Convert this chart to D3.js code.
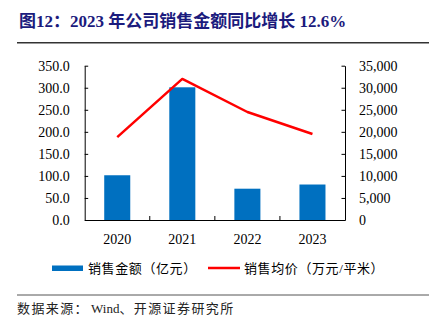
<!DOCTYPE html>
<html><head><meta charset="utf-8">
<script src="https://cdn.jsdelivr.net/npm/d3@7"></script>
<style>
html,body{margin:0;padding:0;background:#fff;}
svg{display:block;}
</style></head>
<body>
<svg id="chart" width="430" height="332"></svg>
<script>
const years = ["2020", "2021", "2022", "2023"];
const salesAmount = [101.5, 301, 71, 80.5];        // 销售金额（亿元）
const avgPrice = [18800, 32000, 24500, 19500];     // 销售均价（万元/平米）
const leftTicks = [0, 50, 100, 150, 200, 250, 300, 350];
const rightTicks = [0, 5000, 10000, 15000, 20000, 25000, 30000, 35000];
const titleText = "图12：2023 年公司销售金额同比增长 12.6%";
const legendBar = "销售金额（亿元）";
const legendLine = "销售均价（万元/平米）";
const sourceParts = ["数据来源：", "Wind", "、开源证券研究所"];

const svg = d3.select("#chart");
const serif = "'Liberation Serif','Times New Roman','Noto Sans CJK SC',serif";
const cjk = "'Liberation Serif','Noto Sans CJK SC',sans-serif";

const L = 84.7, R = 345, T = 65.7, B = 220;
const x = d3.scaleBand().domain(years).range([L, R]).padding(0);
const yL = d3.scaleLinear().domain([0, 350]).range([B, T]);
const yR = d3.scaleLinear().domain([0, 35000]).range([B, T]);

// Title
svg.append("text").attr("x", 19).attr("y", 27)
  .attr("font-family", cjk).attr("font-weight", "bold").attr("font-size", 17)
  .attr("fill", "#1b1b7d").text(titleText);
svg.append("line").attr("x1", 17).attr("x2", 429).attr("y1", 42.7).attr("y2", 42.7)
  .attr("stroke", "#333").attr("stroke-width", 1.4);

// Bars
const bw = x.bandwidth() * 0.4;
svg.append("g").selectAll("rect").data(years).join("rect")
  .attr("x", d => x(d) + x.bandwidth() / 2 - bw / 2)
  .attr("width", bw)
  .attr("y", (d, i) => yL(salesAmount[i]))
  .attr("height", (d, i) => B - yL(salesAmount[i]))
  .attr("fill", "#0070c0");

// Line
const line = d3.line()
  .x((d, i) => x(years[i]) + x.bandwidth() / 2)
  .y(d => yR(d));
svg.append("path").datum(avgPrice).attr("d", line)
  .attr("fill", "none").attr("stroke", "#ff0000").attr("stroke-width", 2.5)
  .attr("stroke-linejoin", "round");

// Left axis
const leftAxis = d3.axisLeft(yL).tickValues(leftTicks).tickFormat(d3.format(".1f"))
  .tickSizeInner(-3.5).tickSizeOuter(0).tickPadding(15);
const gL = svg.append("g").attr("transform", `translate(${L},0)`).call(leftAxis);
gL.selectAll("text").attr("font-family", serif).attr("font-size", 14).attr("fill", "#000");

// Right axis
const rightAxis = d3.axisRight(yR).tickValues(rightTicks).tickFormat(d3.format(","))
  .tickSizeInner(-3.5).tickSizeOuter(0).tickPadding(14);
const gR = svg.append("g").attr("transform", `translate(${R},0)`).call(rightAxis);
gR.selectAll("text").attr("font-family", serif).attr("font-size", 14).attr("fill", "#000");

// Bottom axis
const bottomAxis = d3.axisBottom(x).tickSize(0).tickPadding(14);
const gB = svg.append("g").attr("transform", `translate(0,${B})`).call(bottomAxis);
gB.selectAll("text").attr("font-family", serif).attr("font-size", 14).attr("fill", "#000");
// inner tick marks between categories
gB.selectAll(".sep").data(years.slice(1)).join("line").attr("class", "sep")
  .attr("x1", d => x(d)).attr("x2", d => x(d)).attr("y1", 0).attr("y2", -4)
  .attr("stroke", "#000");

[gL, gR, gB].forEach(g => g.selectAll("path,line").attr("stroke", "#000"));

// Legend
const lg = svg.append("g");
lg.append("rect").attr("x", 52).attr("y", 265.5).attr("width", 31).attr("height", 5.5).attr("fill", "#0070c0");
lg.append("text").attr("x", 88).attr("y", 273).attr("font-family", cjk).attr("font-size", 13)
  .attr("letter-spacing", 0.6).attr("fill", "#000").text(legendBar);
lg.append("line").attr("x1", 208).attr("x2", 240).attr("y1", 268).attr("y2", 268)
  .attr("stroke", "#ff0000").attr("stroke-width", 2.5);
lg.append("text").attr("x", 244).attr("y", 273).attr("font-family", cjk).attr("font-size", 13)
  .attr("letter-spacing", 0.6).attr("fill", "#000").text(legendLine);

// Footer
svg.append("line").attr("x1", 17).attr("x2", 429).attr("y1", 295).attr("y2", 295)
  .attr("stroke", "#555").attr("stroke-width", 1);
const src = svg.append("text").attr("x", 17).attr("y", 313).attr("font-family", cjk)
  .attr("font-size", 13).attr("fill", "#222");
src.selectAll("tspan").data(sourceParts).join("tspan")
  .attr("letter-spacing", (d, i) => i === 1 ? 0 : 1.4)
  .attr("dx", (d, i) => i === 1 ? 2 : 0)
  .text(d => d);
</script>
</body></html>
